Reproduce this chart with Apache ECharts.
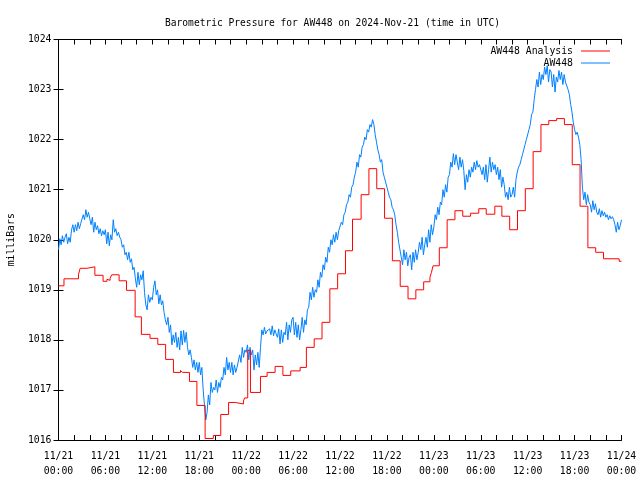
<!DOCTYPE html>
<html>
<head>
<meta charset="utf-8">
<script src="https://cdn.jsdelivr.net/npm/echarts@6/dist/echarts.min.js"></script>
<style>html,body{margin:0;padding:0;background:#fff}#c{width:640px;height:480px}</style>
</head>
<body>
<div id="c"></div>
<script>
// Tick labels (every 6 hours from 2024-11-21 00:00 UTC)
var xTickLabels = ['11/21\n00:00','11/21\n06:00','11/21\n12:00','11/21\n18:00','11/22\n00:00','11/22\n06:00','11/22\n12:00','11/22\n18:00','11/23\n00:00','11/23\n06:00','11/23\n12:00','11/23\n18:00','11/24\n00:00'];
var yTicks = [1016,1017,1018,1019,1020,1021,1022,1023,1024];

// AW448 Analysis: step values (hours since start, mb)
var redTime = [0,0.7,2.56,2.77,3.65,4.65,5.7,6.2,6.45,6.6,6.8,7.75,8.7,9.8,10.6,11.7,12.7,13.7,14.7,15.6,15.85,16.75,17.7,18.75,19.8,20.75,21.75,22.6,23.65,23.8,24.2,24.55,25.83,26.68,27.7,28.7,29.7,30.9,31.7,32.7,33.7,34.7,35.7,36.7,37.6,38.7,39.7,40.7,41.7,42.7,43.7,44.7,45.7,46.7,47.5,47.7,47.9,48.7,49.7,50.7,51.7,52.7,53.75,54.7,55.8,56.7,57.7,58.7,59.7,60.7,61.7,62.7,63.7,64.7,65.7,66.7,67.7,68.7,69.7,71.7,72];
var redValue = [1019.08,1019.22,1019.31,1019.43,1019.46,1019.29,1019.17,1019.21,1019.19,1019.23,1019.30,1019.18,1018.99,1018.46,1018.11,1018.03,1017.91,1017.61,1017.35,1017.39,1017.35,1017.17,1016.69,1016.03,1016.09,1016.51,1016.75,1016.72,1016.78,1016.84,1017.79,1016.95,1017.27,1017.35,1017.47,1017.29,1017.38,1017.45,1017.85,1018.02,1018.35,1019.02,1019.32,1019.78,1020.41,1020.90,1021.42,1021.02,1020.43,1019.58,1019.07,1018.82,1019.00,1019.16,1019.25,1019.35,1019.48,1019.84,1020.40,1020.58,1020.47,1020.53,1020.62,1020.51,1020.67,1020.47,1020.20,1020.58,1021.02,1021.76,1022.30,1022.38,1022.42,1022.30,1021.50,1020.67,1019.84,1019.75,1019.62,1019.57,1019.57];

// AW448 observations, every 10 minutes (one row per hour)
var blueStepHours = 1 / 6;
var blueDay1 = [
1019.80,1020.02,1019.90,1020.08,1019.95,1020.05,
1020.12,1019.92,1020.05,1019.95,1020.20,1020.30,
1020.15,1020.30,1020.18,1020.35,1020.22,1020.32,
1020.35,1020.50,1020.40,1020.60,1020.45,1020.55,
1020.42,1020.30,1020.45,1020.15,1020.35,1020.20,
1020.28,1020.12,1020.22,1020.08,1020.18,1020.10,
1020.20,1019.92,1020.15,1019.88,1020.10,1020.00,
1020.40,1020.15,1020.22,1020.08,1020.15,1020.05,
1020.00,1019.85,1019.90,1019.70,1019.75,1019.60,
1019.75,1019.55,1019.62,1019.40,1019.45,1019.22,
1019.05,1019.35,1019.10,1019.30,1019.20,1019.38,
1018.95,1018.70,1018.60,1018.90,1018.75,1018.85,
1018.80,1019.05,1019.18,1018.90,1019.00,1018.72,
1018.90,1018.70,1018.78,1018.55,1018.40,1018.30,
1018.45,1018.15,1018.30,1017.90,1018.10,1017.95,
1018.15,1017.85,1018.05,1017.80,1018.18,1017.90,
1018.19,1017.95,1018.15,1017.85,1017.70,1017.80,
1017.65,1017.45,1017.60,1017.40,1017.55,1017.35,
1017.55,1017.30,1017.45,1017.00,1016.70,1016.40,
1016.55,1016.90,1016.70,1017.15,1016.95,1017.05,
1017.00,1017.20,1016.95,1017.15,1017.05,1017.25,
1017.20,1017.45,1017.30,1017.65,1017.40,1017.55,
1017.35,1017.55,1017.30,1017.50,1017.35,1017.45,
1017.45,1017.70,1017.55,1017.85,1017.65,1017.80];
var blueDay2 = [
1017.75,1017.90,1017.60,1017.85,1017.70,1017.80,
1017.40,1017.70,1017.50,1017.75,1017.45,1017.85,
1018.20,1018.10,1018.25,1018.12,1018.18,1018.15,
1018.22,1018.10,1018.28,1018.08,1018.20,1018.12,
1018.05,1018.22,1017.92,1018.20,1017.95,1018.15,
1018.10,1018.35,1018.00,1018.30,1018.15,1018.40,
1018.45,1018.10,1018.35,1018.05,1018.30,1018.00,
1018.20,1018.45,1018.15,1018.40,1018.30,1018.60,
1018.65,1018.95,1018.80,1019.05,1018.85,1019.00,
1018.95,1019.20,1019.05,1019.35,1019.25,1019.50,
1019.40,1019.65,1019.55,1019.85,1019.75,1020.00,
1019.90,1020.10,1019.95,1020.15,1020.00,1020.18,
1020.20,1020.35,1020.30,1020.50,1020.55,1020.70,
1020.75,1020.90,1020.85,1021.05,1021.10,1021.25,
1021.35,1021.55,1021.45,1021.70,1021.65,1021.85,
1021.90,1022.05,1022.00,1022.20,1022.15,1022.30,
1022.25,1022.40,1022.30,1022.10,1021.95,1021.80,
1021.70,1021.55,1021.60,1021.35,1021.25,1021.15,
1021.05,1020.95,1020.85,1020.80,1020.65,1020.60,
1020.50,1020.30,1020.15,1019.95,1019.80,1019.65,
1019.50,1019.80,1019.60,1019.75,1019.48,1019.65,
1019.70,1019.40,1019.75,1019.55,1019.80,1019.60,
1019.75,1019.95,1019.80,1020.05,1019.70,1019.90,
1020.05,1019.85,1020.20,1019.95,1020.30,1020.10];
var blueDay3 = [
1020.25,1020.50,1020.40,1020.65,1020.50,1020.75,
1020.70,1021.00,1020.85,1021.10,1020.95,1021.25,
1021.30,1021.55,1021.45,1021.72,1021.50,1021.70,
1021.72,1021.40,1021.65,1021.45,1021.60,1021.38,
1021.00,1021.30,1021.15,1021.40,1021.25,1021.45,
1021.35,1021.55,1021.40,1021.58,1021.45,1021.50,
1021.50,1021.30,1021.45,1021.20,1021.50,1021.15,
1021.40,1021.65,1021.35,1021.55,1021.40,1021.50,
1021.30,1021.45,1021.20,1021.40,1021.05,1021.25,
1021.10,1020.85,1020.95,1020.80,1021.05,1020.85,
1020.90,1021.05,1020.85,1021.20,1021.35,1021.45,
1021.50,1021.60,1021.70,1021.80,1021.90,1022.00,
1022.00,1022.20,1022.30,1022.50,1022.55,1022.80,
1023.00,1023.20,1023.05,1023.35,1023.10,1023.30,
1023.20,1023.45,1023.30,1023.48,1023.15,1023.40,
1023.35,1023.05,1023.30,1022.95,1023.25,1023.15,
1023.38,1023.20,1023.35,1023.10,1023.30,1023.15,
1023.15,1023.00,1022.90,1022.70,1022.55,1022.35,
1022.20,1022.10,1022.15,1022.05,1021.90,1021.60,
1021.05,1020.80,1020.95,1020.70,1020.90,1020.75,
1020.70,1020.55,1020.78,1020.60,1020.72,1020.55,
1020.50,1020.62,1020.45,1020.58,1020.48,1020.55,
1020.45,1020.50,1020.40,1020.48,1020.42,1020.46,
1020.40,1020.30,1020.15,1020.35,1020.20,1020.28,
1020.40];

var blueValues = blueDay1.concat(blueDay2, blueDay3);
var blueData = blueValues.map(function (v, i) { return [i * blueStepHours, v]; });
var redData = redTime.map(function (t, i) { return [t, redValue[i]]; });

var FONT = 'DejaVu Sans Mono';
var FS = 9.8;
var chart = echarts.init(document.getElementById('c'), null, {renderer: 'canvas'});
var axisCommon = {
  axisLine: {show: true, lineStyle: {color: '#000', width: 1}},
  axisTick: {show: true, inside: true, length: 5, lineStyle: {color: '#000'}},
  splitLine: {show: false}
};
chart.setOption({
  animation: false,
  backgroundColor: '#fff',
  title: {
    text: 'Barometric Pressure for AW448 on 2024-Nov-21 (time in UTC)',
    left: 160, top: 13,
    textStyle: {fontFamily: FONT, fontSize: 9.6, fontWeight: 'normal', color: '#000'}
  },
  legend: [
    {data: ['AW448 Analysis'], right: 25, top: 41, align: 'right', itemWidth: 29, itemHeight: 1, itemGap: 0,
     icon: 'rect', textStyle: {fontFamily: FONT, fontSize: FS, color: '#000', padding: [0, 3, 0, 0]}},
    {data: ['AW448'], right: 25, top: 53, align: 'right', itemWidth: 29, itemHeight: 1, itemGap: 0,
     icon: 'rect', textStyle: {fontFamily: FONT, fontSize: FS, color: '#000', padding: [0, 3, 0, 0]}}
  ],
  grid: {left: 58.5, right: 18.5, top: 39.5, bottom: 40, containLabel: false, outerBoundsMode: 'none'},
  xAxis: [
    Object.assign({}, axisCommon, {
      type: 'value', min: 0, max: 72, interval: 2,
      axisLabel: {
        fontFamily: FONT, fontSize: FS, color: '#000', margin: 9, lineHeight: 15,
        formatter: function (v) { return (v % 6 === 0) ? xTickLabels[v / 6] : ''; }
      }
    }),
    Object.assign({}, axisCommon, {
      type: 'value', min: 0, max: 72, interval: 2, position: 'top',
      axisLabel: {show: false}
    })
  ],
  yAxis: [
    Object.assign({}, axisCommon, {
      type: 'value', min: yTicks[0], max: yTicks[yTicks.length - 1], interval: 1,
      name: 'milliBars', nameLocation: 'middle', nameGap: 42, nameRotate: 90,
      nameTextStyle: {fontFamily: FONT, fontSize: FS, color: '#000'},
      axisLabel: {fontFamily: FONT, fontSize: FS, color: '#000', margin: 7,
        formatter: function (v) { return String(v); }}
    }),
    Object.assign({}, axisCommon, {
      type: 'value', min: yTicks[0], max: yTicks[yTicks.length - 1], interval: 1, position: 'right',
      axisLabel: {show: false}
    })
  ],
  series: [
    {name: 'AW448 Analysis', type: 'line', step: 'end', data: redData, showSymbol: false, z: 3,
     color: '#ff0000', lineStyle: {color: '#ff0000', width: 1}},
    {name: 'AW448', type: 'line', data: blueData, showSymbol: false, z: 2,
     color: '#0080ff', lineStyle: {color: '#0080ff', width: 1}}
  ]
});
</script>
</body>
</html>
